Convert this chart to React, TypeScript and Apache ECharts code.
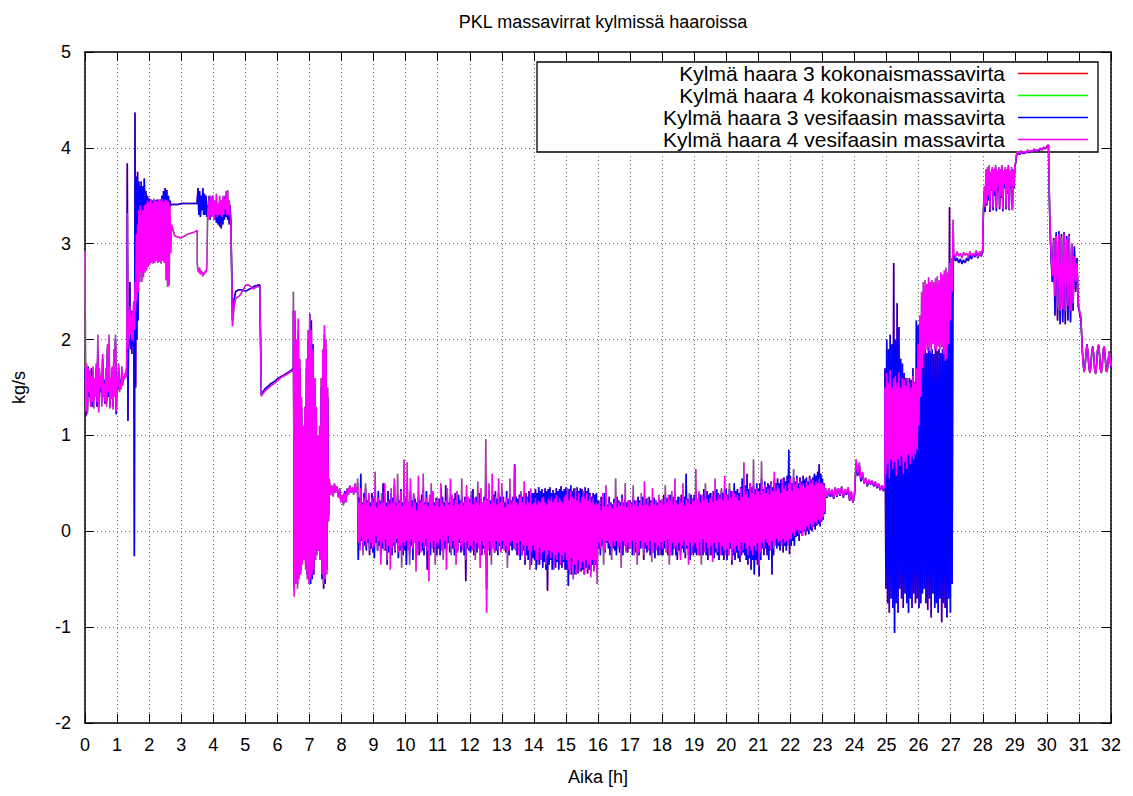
import React, { useEffect, useRef } from "react";
import * as echarts from "echarts";

const FONT = "'Liberation Sans', Arial, Helvetica, sans-serif";

const titleText = "PKL massavirrat kylmissä haaroissa";
const xName = "Aika [h]";
const yName = "kg/s";

const seriesNames = [
  "Kylmä haara 3 kokonaismassavirta",
  "Kylmä haara 4 kokonaismassavirta",
  "Kylmä haara 3 vesifaasin massavirta",
  "Kylmä haara 4 vesifaasin massavirta",
];
const seriesColors = ["#ff0000", "#00ff00", "#0000ff", "#ff00ff"];

// time span [start h, end h] of each recorded piece; the values of a piece are evenly spread over its span
const spans: [number, number][] = [
  [0, 1.3], [1.3, 1.74], [1.75, 2.7], [2.7, 3.5], [3.5, 4.55], [4.55, 5.5], [5.5, 6.5],
  [6.5, 7.62], [7.62, 8.5],
  [8.5, 8.975], [9, 9.975], [10, 10.975], [11, 11.975], [12, 12.975], [13, 13.975], [14, 14.975],
  [15, 15.975], [16, 16.975], [17, 17.975], [18, 18.975], [19, 19.975], [20, 20.975], [21, 21.975],
  [22, 22.975], [23, 23.1],
  [23.1, 24.95], [24.95, 27.1], [27.1, 28], [28, 29.05], [29.05, 30.05], [30.05, 31.1], [31.1, 32],
];

// Kylmä haara 3 (blue, red underneath) – kg/s
const h3Start = [
  [1.7, 1.2, 1.65, 1.25, 1.72, 1.4, 1.6, 1.35, 1.7, 1.3, 1.65, 1.38, 1.55, 1.42, 1.7, 1.3, 1.9, 1.3, 1.65, 1.45, 1.6, 1.35, 1.8, 1.42, 1.58, 1.33, 1.65, 1.35, 1.9, 1.4, 1.95, 1.3, 1.58, 1.4, 1.7, 1.3, 1.85, 1.42, 2.0, 1.22, 1.6, 1.48, 1.7, 1.48, 1.58, 1.5, 1.68, 1.55, 1.62, 1.6, 1.63, 1.62, 1.7],
  [1.75, 3.84, 1.15, 2.1, 1.95, 2.6, 1.9, 2.3, 1.85, 2.2, 1.95, 2.4, -0.26, 4.37, 1.5, 3.7, 2.0, 3.75, 2.2, 3.65, 2.6, 3.6, 2.9],
  [3.65, 3.0, 3.6, 3.1, 3.68, 3.2, 3.55, 3.25, 3.5, 3.3, 3.47, 3.32, 3.46, 3.33, 3.45, 3.34, 3.46, 3.35, 3.45, 3.34, 3.46, 3.33, 3.45, 3.35, 3.46, 3.34, 3.5, 3.32, 3.55, 3.3, 3.58, 3.3, 3.56, 3.32, 3.5, 3.36, 3.45, 3.4, 3.41],
  [3.41, 3.41, 3.41, 3.42, 3.42, 3.42, 3.42, 3.42, 3.42],
  [3.45, 3.58, 3.3, 3.55, 3.28, 3.5, 3.35, 3.58, 3.3, 3.52, 3.3, 3.5, 3.28, 3.4, 3.3, 3.5, 3.25, 3.45, 3.28, 3.5, 3.3, 3.45, 3.25, 3.42, 3.22, 3.4, 3.2, 3.38, 3.18, 3.42, 3.16, 3.45, 3.2, 3.48, 3.25, 3.5, 3.28, 3.52, 3.25, 3.45, 3.2, 3.4, 3.22],
  [3.25, 2.2, 2.42, 2.5, 2.51, 2.52, 2.52, 2.52, 2.51, 2.51, 2.51, 2.52, 2.53, 2.54, 2.55, 2.56, 2.56, 2.57, 2.57, 1.43],
  [1.43, 1.48, 1.51, 1.54, 1.56, 1.59, 1.61, 1.63, 1.65, 1.67, 1.7],
  [2.3, -0.6, 2.2, -0.5, 1.9, -0.55, 2.1, -0.45, 1.7, -0.4, 1.3, -0.3, 1.0, -0.25, 1.2, -0.35, 1.7, -0.45, 2.0, -0.5, 2.27, -0.55, 2.2, -0.5, 1.95, -0.45, 1.6, -0.3, 1.2, -0.2, 0.9, -0.2, 1.0, -0.3, 1.5, -0.5, 1.8, -0.6, 2.05, -0.55, 1.9, -0.4, 1.4, 0.15, 0.5],
  [0.5, 0.4, 0.46, 0.38, 0.48, 0.42, 0.45, 0.37, 0.43, 0.32, 0.36, 0.29, 0.42, 0.32, 0.44, 0.4, 0.47, 0.41, 0.45, 0.4, 0.48, 0.42, 0.44],
];
const h3Noise = [
  [0.5, -0.3, 0.35, -0.15, 0.6, -0.1, 0.3, -0.2, 0.4, -0.15, 0.45, -0.2, 0.32, -0.12, 0.38, -0.25, 0.3, -0.18, 0.4, -0.22],
  [0.35, -0.28, 0.45, -0.12, 0.3, -0.2, 0.42, -0.15, 0.32, -0.25, 0.3, -0.18, 0.5, -0.12, 0.35, -0.2, 0.3, -0.35, 0.42, -0.22,
    0.33, -0.18, 0.4, -0.25, 0.35, -0.15, 0.48, -0.22, 0.3, -0.12, 0.38, -0.28, 0.32, -0.2, 0.44, -0.18, 0.3, -0.25, 0.4, -0.2],
  [0.35, -0.35, 0.5, -0.18, 0.3, -0.25, 0.42, -0.15, 0.32, -0.3, 0.38, -0.12, 0.34, -0.22, 0.3, -0.18, 0.36, -0.25, 0.32, -0.12,
    0.38, -0.2, 0.45, -0.25, 0.3, -0.15, 0.42, -0.4, 0.3, -0.18, 0.36, -0.25, 0.32, -0.12, 0.4, -0.22, 0.3, -0.18, 0.35, -0.25],
  [0.3, -0.18, 0.34, -0.25, 0.45, -0.12, 0.36, -0.22, 0.3, -0.18, 0.48, -0.2, 0.35, -0.12, 0.3, -0.22, 0.36, -0.15, 0.3, -0.18,
    0.34, -0.25, 0.4, -0.15, 0.3, -0.2, 0.38, -0.12, 0.32, -0.22, 0.36, -0.18, 0.3, -0.25, 0.36, -0.52, 0.3, -0.18, 0.34, -0.2],
  [0.34, -0.22, 0.38, -0.18, 0.44, -0.25, 0.3, -0.18, 0.36, -0.22, 0.32, -0.15, 0.4, -0.2, 0.34, -0.25, 0.3, -0.18, 0.36, -0.22,
    0.55, -0.6, 0.34, -0.18, 0.42, -0.25, 0.32, -0.2, 0.36, -0.12, 0.38, -0.22, 0.42, -0.2, 0.34, -0.25, 0.4, -0.15, 0.36, -0.2],
  [0.42, -0.18, 0.36, -0.12, 0.3, -0.22, 0.42, -0.18, 0.34, -0.25, 0.38, -0.15, 0.32, -0.2, 0.36, -0.18, 0.7, -0.12, 0.36, -0.25,
    0.34, -0.18, 0.38, -0.3, 0.4, -0.25, 0.36, -0.2, 0.38, -0.35, 0.4, -0.25, 0.36, -0.3, 0.42, -0.22, 0.38, -0.35, 0.4, -0.28],
  [0.4, -0.3, 0.44, -0.4, 0.4, -0.32, 0.46, -0.35, 0.42, -0.3, 0.44, -0.38, 0.4, -0.32, 0.45, -0.4, 0.42, -0.62, 0.44, -0.35,
    0.46, -0.3, 0.4, -0.4, 0.43, -0.35, 0.4, -0.38, 0.45, -0.32, 0.42, -0.4, 0.44, -0.35, 0.47, -0.38, 0.42, -0.32, 0.44, -0.4],
  [0.46, -0.4, 0.42, -0.57, 0.44, -0.4, 0.48, -0.45, 0.42, -0.36, 0.45, -0.45, 0.4, -0.4, 0.46, -0.44, 0.42, -0.38, 0.45, -0.42,
    0.44, -0.4, 0.4, -0.45, 0.46, -0.38, 0.42, -0.44, 0.45, -0.4, 0.4, -0.42, 0.36, -0.35, 0.4, -0.4, 0.38, -0.35, 0.4, -0.42],
  [0.32, -0.18, 0.28, -0.25, 0.36, -0.15, 0.3, -0.2, 0.4, -0.22, 0.32, -0.12, 0.28, -0.18, 0.36, -0.25, 0.3, -0.12, 0.28, -0.18,
    0.34, -0.2, 0.3, -0.25, 0.36, -0.15, 0.32, -0.22, 0.3, -0.18, 0.38, -0.25, 0.3, -0.15, 0.34, -0.2, 0.3, -0.22, 0.32, -0.18],
  [0.32, -0.12, 0.3, -0.25, 0.36, -0.18, 0.32, -0.22, 0.28, -0.12, 0.36, -0.25, 0.32, -0.18, 0.3, -0.12, 0.36, -0.3, 0.28, -0.18,
    0.34, -0.22, 0.3, -0.18, 0.36, -0.25, 0.32, -0.15, 0.3, -0.22, 0.35, -0.28, 0.32, -0.18, 0.3, -0.25, 0.34, -0.2, 0.32, -0.25],
  [0.32, -0.25, 0.38, -0.18, 0.3, -0.12, 0.35, -0.25, 0.32, -0.18, 0.38, -0.22, 0.32, -0.25, 0.36, -0.18, 0.34, -0.25, 0.32, -0.3,
    0.36, -0.2, 0.34, -0.25, 0.38, -0.18, 0.32, -0.22, 0.36, -0.28, 0.6, -0.18, 0.34, -0.25, 0.32, -0.3, 0.38, -0.22, 0.34, -0.25],
  [0.38, -0.22, 0.44, -0.25, 0.34, -0.18, 0.4, -0.25, 0.38, -0.12, 0.32, -0.25, 0.44, -0.18, 0.38, -0.25, 0.42, -0.3, 0.38, -0.18,
    0.4, -0.25, 0.36, -0.2, 0.42, -0.28, 0.38, -0.22, 0.44, -0.25, 0.4, -0.3, 0.38, -0.2, 0.42, -0.25, 0.4, -0.3, 0.44, -0.22],
  [0.44, -0.3, 0.38, -0.25, 0.44, -0.18, 0.42, -0.35, 0.38, -0.25, 0.5, -0.3, 0.42, -0.22, 0.44, -0.28, 0.4, -0.32, 0.46, -0.25,
    0.55, -0.22, 0.44, -0.25, 0.48, -0.3, 0.6, -0.35, 0.44, -0.28, 0.5, -0.4, 0.46, -0.3, 0.48, -0.45, 0.44, -0.3, 0.5, -0.35],
  [0.44, -0.47, 0.5, -0.3, 0.55, -0.18, 0.44, -0.25, 0.52, -0.18, 0.46, -0.25, 0.5, -0.3, 0.48, -0.2, 0.52, -0.45, 0.46, -0.25,
    0.55, -0.12, 0.5, -0.18, 0.55, -0.15, 0.5, -0.2, 0.54, -0.12, 0.5, -0.22, 0.56, -0.15, 0.52, -0.2, 0.58, -0.12, 0.85, -0.24],
  [0.58, -0.15, 0.5, -0.1, 0.56, -0.15, 0.52, -0.06, 0.58, -0.05, 0.5, -0.1, 0.56, -0.02, 0.52, -0.05, 0.58, 0.0, 0.54, -0.04,
    0.56, 0.0, 0.52, -0.03, 0.58, 0.02, 0.54, 0.0, 0.56, 0.05, 0.6, 0.02, 0.58, 0.06, 0.62, 0.08, 0.7, 0.05, 0.6, 0.1],
  [0.55, 0.12, 0.5, 0.18, 0.45],
];
const h3End = [
  [0.4, 0.35, 0.44, 0.36, 0.43, 0.34, 0.45, 0.36, 0.44, 0.37, 0.46, 0.35, 0.43, 0.38, 0.45, 0.32, 0.4, 0.3, 0.38, 0.7, 0.58, 0.68, 0.52, 0.6, 0.5, 0.55, 0.47, 0.53, 0.49, 0.52, 0.47, 0.51, 0.45, 0.49, 0.43, 0.47, 0.42, 0.48],
  [1.7, -0.6, 2.0, -0.75, 1.9, -0.85, 2.05, -0.7, 1.95, -0.8, 2.8, -1.06, 2.0, -0.75, 2.38, -0.85, 2.13, -0.6, 1.8, -0.7, 1.75, -0.8, 1.65, -0.65, 1.6, -0.75, 1.55, -0.85, 1.6, -0.7, 1.58, -0.8, 1.7, -0.65, 1.56, -0.75,
    2.2, -0.7, 2.15, -0.8, 1.95, -0.75, 1.9, -0.65,
    1.88, -0.6, 1.9, -0.75, 1.86, -0.82, 1.92, -0.7, 1.88, -0.9, 1.9, -0.65, 1.85, -0.8, 1.92, -0.75, 1.88, -0.85, 1.9, -0.7, 1.86, -0.95, 1.9, -0.75, 1.88, -0.8, 1.95, -0.9, 2.4, -0.7, 3.38, -0.85, 2.8, -0.55,
    2.88, 2.85],
  [2.88, 2.82, 2.85, 2.8, 2.84, 2.79, 2.83, 2.8, 2.85, 2.82, 2.88, 2.84, 2.9, 2.86, 2.91, 2.85, 2.9, 2.87, 2.92],
  [3.05, 3.35, 3.55, 3.33, 3.75, 3.4, 3.78, 3.45, 3.8, 3.33, 3.72, 3.55, 3.78, 3.35, 3.76, 3.5, 3.8, 3.34, 3.74, 3.55, 3.78, 3.36, 3.76, 3.48, 3.8, 3.34, 3.74, 3.58, 3.78, 3.36, 3.76, 3.52, 3.8, 3.35, 3.74, 3.58, 3.78, 3.36, 3.76, 3.58, 3.8, 3.84, 3.9],
  [3.92, 3.95, 3.93, 3.96, 3.94, 3.95, 3.95, 3.97, 3.95, 3.97, 3.96, 3.98, 3.96, 3.98, 3.97, 3.99, 3.98, 4.0, 3.99, 4.01, 4.03],
  [4.0, 3.25, 2.85, 2.6, 3.06, 2.25, 3.12, 2.2, 3.13, 2.16, 3.1, 2.18, 3.12, 2.16, 3.08, 2.2, 3.1, 2.18, 3.0, 2.3, 2.97, 2.5, 2.85, 2.35, 2.28, 2.2, 1.95],
  [1.92, 1.76, 1.67, 1.72, 1.86, 1.95, 1.87, 1.71, 1.66, 1.72, 1.87, 1.93, 1.84, 1.69, 1.65, 1.73, 1.89, 1.94, 1.85, 1.69, 1.66, 1.75, 1.9, 1.92, 1.81, 1.67, 1.67, 1.77, 1.87, 1.79, 1.71],
];

// Kylmä haara 4 (magenta, green underneath) – kg/s
const h4Start = [
  [2.92, 1.25, 1.75, 1.22, 1.7, 1.45, 1.68, 1.3, 1.62, 1.35, 1.72, 1.28, 1.6, 1.4, 1.75, 1.35, 2.05, 1.24, 1.7, 1.5, 1.62, 1.3, 1.85, 1.4, 1.55, 1.35, 1.7, 1.3, 1.95, 1.45, 2.05, 1.28, 1.6, 1.38, 1.72, 1.27, 1.9, 1.4, 2.05, 1.25, 1.62, 1.5, 1.75, 1.45, 1.55, 1.48, 1.72, 1.52, 1.6, 1.58, 1.65, 1.6, 1.72],
  [1.7, 3.32, 1.9, 2.3, 2.0, 2.35, 2.05, 2.25, 2.0, 2.3, 1.98, 2.4, 2.1, 2.6, 2.3, 3.1, 2.4, 3.2, 2.5, 3.35, 2.6, 3.4, 2.7],
  [3.3, 2.6, 3.35, 2.65, 3.4, 2.7, 3.42, 2.72, 3.45, 2.76, 3.44, 2.78, 3.46, 2.8, 3.43, 2.79, 3.47, 2.8, 3.45, 2.82, 3.44, 2.8, 3.46, 2.81, 3.45, 2.79, 3.47, 2.82, 3.44, 2.8, 3.46, 2.62, 3.45, 2.55, 3.44, 2.56, 3.4, 2.9, 3.2],
  [3.2, 3.08, 3.07, 3.06, 3.08, 3.1, 3.11, 3.12, 3.14],
  [2.8, 2.72, 2.7, 2.75, 2.68, 2.72, 2.7, 2.66, 2.7, 2.68, 2.72, 2.7, 2.75, 3.3, 3.45, 3.25, 3.5, 3.28, 3.48, 3.3, 3.5, 3.25, 3.45, 3.3, 3.52, 3.28, 3.42, 3.3, 3.5, 3.3, 3.45, 3.28, 3.5, 3.3, 3.48, 3.35, 3.55, 3.3, 3.56, 3.3, 3.45, 3.3, 3.25],
  [3.2, 2.14, 2.35, 2.43, 2.44, 2.45, 2.47, 2.5, 2.53, 2.56, 2.57, 2.57, 2.56, 2.54, 2.53, 2.54, 2.55, 2.55, 2.55, 1.41],
  [1.41, 1.46, 1.49, 1.52, 1.54, 1.57, 1.6, 1.62, 1.64, 1.66, 1.68],
  [2.5, -0.68, 2.3, -0.55, 2.0, -0.6, 2.22, -0.5, 1.8, -0.45, 1.4, -0.35, 1.1, -0.3, 1.3, -0.4, 1.8, -0.5, 2.1, -0.55, 2.26, -0.5, 2.1, -0.45, 1.9, -0.4, 1.6, -0.3, 1.3, -0.25, 1.0, -0.2, 1.1, -0.3, 1.6, -0.45, 1.9, -0.55, 2.15, -0.5, 2.0, -0.45, 1.5, 0.1, 0.55],
  [0.55, 0.38, 0.48, 0.36, 0.5, 0.4, 0.47, 0.35, 0.45, 0.3, 0.38, 0.27, 0.4, 0.3, 0.45, 0.38, 0.48, 0.4, 0.46, 0.38, 0.5, 0.4, 0.45],
];
const h4Noise = [
  [0.55, -0.12, 0.3, -0.2, 0.45, -0.05, 0.28, -0.25, 0.35, -0.1, 0.5, -0.15, 0.3, -0.08, 0.4, -0.2, 0.26, -0.12, 0.35, -0.18],
  [0.3, -0.15, 0.62, -0.05, 0.25, -0.2, 0.35, -0.1, 0.28, -0.35, 0.4, -0.12, 0.3, -0.2, 0.5, -0.08, 0.26, -0.3, 0.32, -0.15,
    0.28, -0.4, 0.45, -0.18, 0.3, -0.12, 0.55, -0.2, 0.27, -0.08, 0.6, -0.22, 0.3, -0.15, 0.42, -0.38, 0.26, -0.12, 0.75, -0.15],
  [0.28, -0.1, 0.72, -0.2, 0.3, -0.35, 0.55, -0.08, 0.25, -0.18, 0.4, -0.12, 0.3, -0.42, 0.22, -0.25, 0.58, -0.1, 0.3, -0.22,
    0.32, -0.12, 0.6, -0.18, 0.28, -0.08, 0.35, -0.2, 0.26, -0.52, 0.38, -0.12, 0.5, -0.18, 0.42, -0.1, 0.27, -0.35, 0.33, -0.12],
  [0.35, -0.15, 0.25, -0.08, 0.5, -0.2, 0.3, -0.3, 0.26, -0.1, 0.32, -0.4, 0.45, -0.05, 0.28, -0.15, 0.55, -0.25, 0.38, -0.1,
    0.27, -0.18, 0.33, -0.35, 0.42, -0.22, 0.28, -0.08, 0.3, -0.15, 0.55, -0.2, 0.26, -0.12, 0.32, -0.3, 0.48, -0.1, 0.36, -0.18],
  [0.3, -0.15, 0.42, -0.2, 0.28, -0.1, 0.35, -0.3, 0.3, -0.12, 0.52, -0.18, 0.27, -0.38, 0.45, -0.1, 0.3, -0.15, 0.33, -0.25,
    0.96, -0.85, 0.32, -0.2, 0.5, -0.1, 0.28, -0.35, 0.6, -0.18, 0.3, -0.22, 0.36, -0.1, 0.28, -0.2, 0.55, -0.12, 0.3, -0.22],
  [0.5, -0.1, 0.3, -0.2, 0.25, -0.15, 0.35, -0.38, 0.28, -0.2, 0.55, -0.12, 0.28, -0.1, 0.32, -0.18, 0.69, -0.2, 0.3, -0.12,
    0.28, -0.25, 0.36, -0.1, 0.42, -0.25, 0.3, -0.15, 0.52, -0.3, 0.28, -0.15, 0.35, -0.2, 0.3, -0.4, 0.45, -0.22, 0.28, -0.15],
  [0.3, -0.2, 0.35, -0.3, 0.28, -0.35, 0.32, -0.18, 0.3, -0.3, 0.35, -0.22, 0.36, -0.2, 0.3, -0.35, 0.28, -0.25, 0.34, -0.2,
    0.32, -0.28, 0.36, -0.22, 0.3, -0.4, 0.34, -0.25, 0.38, -0.3, 0.3, -0.22, 0.35, -0.35, 0.32, -0.25, 0.3, -0.3, 0.36, -0.22],
  [0.38, -0.3, 0.45, -0.4, 0.32, -0.45, 0.42, -0.28, 0.36, -0.5, 0.34, -0.35, 0.45, -0.45, 0.32, -0.3, 0.4, -0.42, 0.3, -0.38,
    0.36, -0.32, 0.42, -0.45, 0.34, -0.3, 0.4, -0.4, 0.32, -0.35, 0.38, -0.48, 0.3, -0.3, 0.35, -0.42, 0.28, -0.3, 0.3, -0.55],
  [0.28, -0.12, 0.32, -0.18, 0.22, -0.08, 0.4, -0.35, 0.26, -0.2, 0.48, -0.1, 0.25, -0.12, 0.3, -0.15, 0.28, -0.3, 0.24, -0.1,
    0.3, -0.15, 0.55, -0.1, 0.25, -0.18, 0.3, -0.12, 0.27, -0.38, 0.35, -0.1, 0.26, -0.15, 0.5, -0.22, 0.25, -0.12, 0.32, -0.18],
  [0.3, -0.18, 0.25, -0.1, 0.48, -0.25, 0.28, -0.12, 0.32, -0.35, 0.26, -0.22, 0.3, -0.1, 0.4, -0.18, 0.27, -0.25, 0.52, -0.12,
    0.28, -0.15, 0.35, -0.2, 0.26, -0.1, 0.3, -0.32, 0.45, -0.22, 0.28, -0.12, 0.33, -0.2, 0.27, -0.15, 0.38, -0.25, 0.3, -0.12],
  [0.34, -0.18, 0.28, -0.1, 0.48, -0.22, 0.3, -0.08, 0.38, -0.35, 0.32, -0.25, 0.42, -0.12, 0.28, -0.18, 0.55, -0.15, 0.3, -0.22,
    0.28, -0.12, 0.36, -0.3, 0.3, -0.15, 0.5, -0.1, 0.27, -0.22, 0.34, -0.15, 0.3, -0.35, 0.4, -0.12, 0.28, -0.25, 0.33, -0.15],
  [0.32, -0.12, 0.65, -0.18, 0.34, -0.25, 0.42, -0.12, 0.3, -0.35, 0.38, -0.08, 0.32, -0.22, 0.5, -0.12, 0.34, -0.18, 0.3, -0.25,
    0.35, -0.15, 0.4, -0.32, 0.3, -0.12, 0.55, -0.18, 0.32, -0.22, 0.38, -0.12, 0.34, -0.25, 0.45, -0.15, 0.32, -0.2, 0.58, -0.25],
  [0.38, -0.18, 0.32, -0.25, 0.5, -0.12, 0.35, -0.3, 0.42, -0.18, 0.4, -0.22, 0.36, -0.15, 0.38, -0.2, 0.32, -0.25, 0.45, -0.12,
    0.36, -0.2, 0.72, -0.12, 0.38, -0.18, 0.42, -0.25, 0.35, -0.15, 0.5, -0.2, 0.4, -0.25, 0.75, -0.15, 0.38, -0.2, 0.45, -0.12],
  [0.42, -0.36, 0.38, -0.22, 0.73, -0.12, 0.42, -0.18, 0.48, -0.08, 0.4, -0.12, 0.45, -0.15, 0.38, -0.2, 0.5, -0.1, 0.42, -0.18,
    0.62, -0.15, 0.42, -0.08, 0.48, -0.12, 0.45, -0.1, 0.4, -0.15, 0.55, -0.08, 0.44, -0.12, 0.48, -0.1, 0.42, -0.15, 0.5, -0.08],
  [0.55, -0.08, 0.42, -0.02, 0.65, -0.05, 0.48, 0.0, 0.55, 0.02, 0.45, -0.03, 0.52, 0.0, 0.48, -0.05, 0.5, 0.02, 0.46, 0.0,
    0.52, 0.05, 0.48, 0.02, 0.55, 0.08, 0.5, 0.04, 0.54, 0.06, 0.48, 0.1, 0.52, 0.08, 0.5, 0.12, 0.55, 0.1, 0.5, 0.12],
  [0.5, 0.15, 0.48, 0.2, 0.45],
];
const h4End = [
  [0.42, 0.36, 0.45, 0.38, 0.44, 0.35, 0.46, 0.37, 0.45, 0.38, 0.47, 0.36, 0.44, 0.4, 0.46, 0.33, 0.42, 0.3, 0.4, 0.75, 0.6, 0.72, 0.55, 0.62, 0.5, 0.56, 0.48, 0.54, 0.5, 0.53, 0.48, 0.52, 0.46, 0.5, 0.44, 0.48, 0.43, 0.5],
  [1.5, 0.6, 1.65, 0.7, 1.55, 0.55, 1.68, 0.75, 1.5, 0.65, 1.6, 0.72, 1.62, 0.58, 1.55, 0.75, 1.66, 0.68, 1.5, 0.78, 1.6, 0.6, 1.58, 0.72, 1.52, 0.65, 1.6, 0.8, 1.55, 0.7, 1.5, 0.78, 1.62, 0.75, 1.55, 0.8,
    1.7, 0.85, 1.95, 1.1, 2.25, 1.4, 2.5, 1.7,
    2.6, 1.85, 2.62, 1.9, 2.58, 1.88, 2.65, 1.92, 2.6, 1.86, 2.62, 1.95, 2.6, 1.9, 2.64, 1.88, 2.66, 1.93, 2.62, 1.9, 2.7, 1.92, 2.68, 1.85, 2.72, 1.78, 2.75, 1.8, 2.7, 1.95, 2.8, 2.2, 2.85, 2.5,
    3.25, 2.9],
  [2.9, 2.86, 2.92, 2.87, 2.9, 2.85, 2.91, 2.88, 2.9, 2.86, 2.92, 2.87, 2.9, 2.88, 2.93, 2.86, 2.92, 2.88, 2.95],
  [3.1, 3.4, 3.6, 3.38, 3.78, 3.42, 3.8, 3.5, 3.82, 3.36, 3.75, 3.6, 3.8, 3.38, 3.78, 3.55, 3.82, 3.37, 3.76, 3.6, 3.8, 3.38, 3.78, 3.5, 3.82, 3.36, 3.76, 3.62, 3.8, 3.38, 3.78, 3.55, 3.82, 3.36, 3.75, 3.6, 3.8, 3.35, 3.78, 3.6, 3.82, 3.85, 3.92],
  [3.93, 3.96, 3.94, 3.97, 3.95, 3.96, 3.95, 3.98, 3.96, 3.97, 3.96, 3.99, 3.97, 3.98, 3.98, 4.0, 3.98, 4.01, 3.99, 4.02, 4.03],
  [4.0, 3.3, 2.9, 2.66, 3.04, 2.45, 3.08, 2.33, 3.1, 2.3, 3.07, 2.32, 3.1, 2.3, 3.05, 2.35, 3.08, 2.3, 3.0, 2.38, 2.87, 2.6, 2.8, 2.4, 2.3, 2.25, 1.95],
  [1.9, 1.75, 1.66, 1.7, 1.85, 1.94, 1.88, 1.72, 1.65, 1.7, 1.86, 1.92, 1.85, 1.7, 1.64, 1.72, 1.88, 1.95, 1.86, 1.7, 1.65, 1.74, 1.9, 1.93, 1.82, 1.68, 1.66, 1.76, 1.88, 1.8, 1.72],
];

function build(pieces: number[][]): [number, number][] {
  const out: [number, number][] = [];
  pieces.forEach((vals, k) => {
    const [t0, t1] = spans[k];
    const n = vals.length;
    vals.forEach((v, i) => {
      out.push([t0 + (n > 1 ? ((t1 - t0) * i) / (n - 1) : 0), v]);
    });
  });
  return out;
}

const h3Data = build([...h3Start, ...h3Noise, ...h3End]);
const h4Data = build([...h4Start, ...h4Noise, ...h4End]);
const seriesData = [h3Data, h4Data, h3Data, h4Data];

const legendRowsY = [74, 96, 118, 140];

export default function App() {
  const ref = useRef<HTMLDivElement>(null);
  useEffect(() => {
    if (!ref.current) return;
    const chart = echarts.init(ref.current, undefined, { renderer: "svg", width: 1133, height: 796 });
    const axisBase = {
      type: "value" as const,
      axisLine: { show: true, onZero: false, lineStyle: { color: "#000", width: 1.5 } },
      axisTick: { show: true, inside: true, length: 9, lineStyle: { color: "#000", width: 1 } },
    };
    const option: any = {
      animation: false,
      backgroundColor: "#fff",
      title: {
        text: titleText,
        left: 598,
        top: 8,
        textAlign: "center",
        textStyle: { fontSize: 18, fontWeight: "normal", color: "#000", fontFamily: FONT },
      },
      grid: { left: 85, right: 22, top: 52, bottom: 73, containLabel: false, outerBoundsMode: "none" },
      xAxis: [
        {
          ...axisBase,
          position: "bottom",
          min: 0,
          max: 32,
          interval: 1,
          name: xName,
          nameLocation: "middle",
          nameGap: 45,
          nameTextStyle: { fontSize: 18, color: "#000", fontFamily: FONT },
          axisLabel: { fontSize: 18, color: "#000", fontFamily: FONT, margin: 13 },
          splitLine: { show: true, lineStyle: { color: "#666", type: [1, 3], width: 1 } },
        },
        {
          ...axisBase,
          position: "top",
          min: 0,
          max: 32,
          interval: 1,
          axisLabel: { show: false },
          splitLine: { show: false },
        },
      ],
      yAxis: [
        {
          ...axisBase,
          position: "left",
          min: -2,
          max: 5,
          interval: 1,
          name: yName,
          nameLocation: "middle",
          nameGap: 57,
          nameTextStyle: { fontSize: 18, color: "#000", fontFamily: FONT },
          axisLabel: { fontSize: 18, color: "#000", fontFamily: FONT, margin: 14 },
          splitLine: { show: true, lineStyle: { color: "#666", type: [1, 3], width: 1 } },
        },
        {
          ...axisBase,
          position: "right",
          min: -2,
          max: 5,
          interval: 1,
          axisLabel: { show: false },
          splitLine: { show: false },
        },
      ],
      legend: seriesNames.map((name, i) => ({
        data: [{ name, icon: "rect" }],
        right: 45,
        top: legendRowsY[i] - 11,
        align: "right",
        orient: "horizontal",
        padding: 0,
        itemWidth: 70,
        itemHeight: 1.5,
        selectedMode: false,
        textStyle: { fontSize: 21, color: "#000", fontFamily: FONT, padding: [0, 8, 0, 0] },
      })),
      graphic: [
        {
          type: "rect",
          z: 1,
          shape: { x: 537, y: 62, width: 561, height: 90 },
          style: { fill: "#fff", stroke: "#000", lineWidth: 1.3 },
          silent: true,
        },
      ],
      series: seriesNames.map((name, i) => ({
        name,
        type: "line",
        data: seriesData[i],
        showSymbol: false,
        symbol: "none",
        color: seriesColors[i],
        lineStyle: { width: 1.5, color: seriesColors[i] },
        silent: true,
        z: 2,
      })),
    };
    chart.setOption(option);
    return () => chart.dispose();
  }, []);
  return (
    <div
      ref={ref}
      style={{ position: "fixed", left: 0, top: 0, width: 1133, height: 796, background: "#fff" }}
    />
  );
}
